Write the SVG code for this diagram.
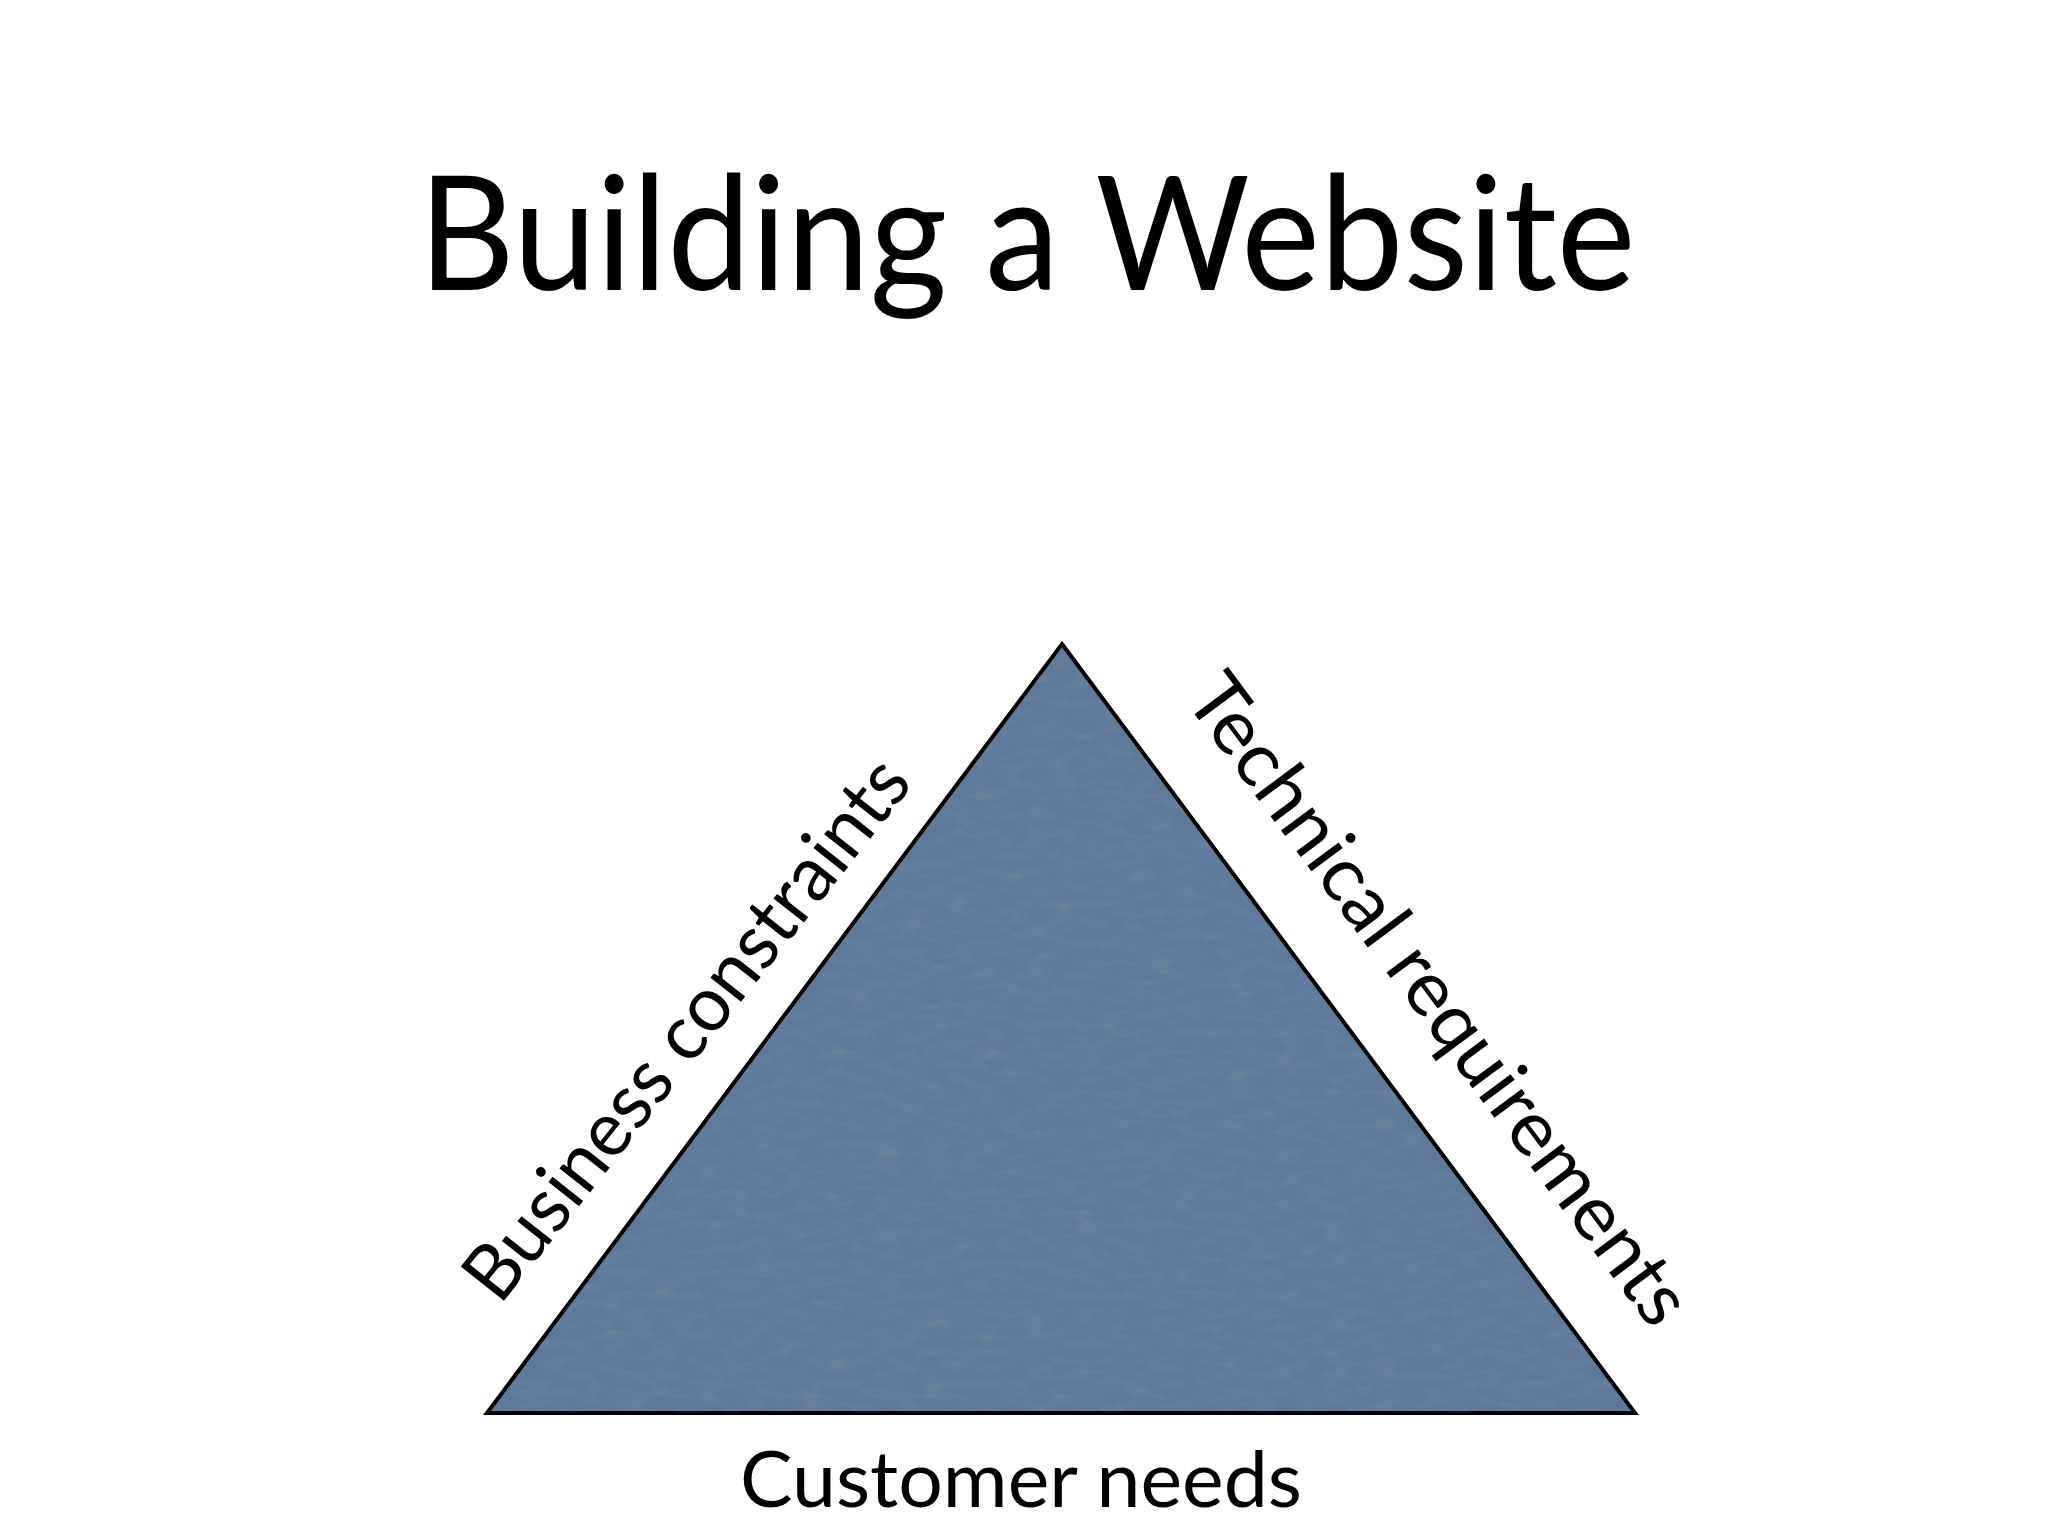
<svg xmlns="http://www.w3.org/2000/svg" width="2048" height="1536" viewBox="0 0 2048 1536">
  <style>
    .lbl { font-family: "Lato", "Open Sans", "Liberation Sans", sans-serif; fill: #000; }
    .title { font-size: 160px; }
    .side { font-size: 77px; }
    .tri { fill: #5f7898; stroke: #000; stroke-width: 4; stroke-linejoin: miter; }
  </style>
  <defs>
    <filter id="paper" x="0" y="0" width="100%" height="100%">
      <feTurbulence type="fractalNoise" baseFrequency="0.04 0.1" numOctaves="2" seed="7" result="n"/>
      <feColorMatrix in="n" type="matrix" values="0 0 0 0 0.62  0 0 0 0 0.68  0 0 0 0 0.78  0.22 0 0 0 -0.09" result="c"/>
      <feComposite in="c" in2="SourceGraphic" operator="in"/>
    </filter>
  </defs>
  <rect width="2048" height="1536" fill="#ffffff"/>

  <g id="title">
    <text class="lbl title" x="1027" y="290" text-anchor="middle" textLength="1217" lengthAdjust="spacingAndGlyphs">Building a Website</text>
  </g>

  <g id="triangle">
    <polygon class="tri" points="1062,644 1635,1413 487,1413"/>
    <polygon points="1062,644 1635,1413 487,1413" fill="#5f7898" filter="url(#paper)"/>
  </g>

  <g id="label-business">
    <text class="lbl side" x="0" y="0" text-anchor="middle" textLength="667" lengthAdjust="spacingAndGlyphs" transform="translate(707,1045) rotate(-51.6)">Business constraints</text>
  </g>

  <g id="label-technical">
    <text class="lbl side" x="0" y="0" text-anchor="middle" textLength="788" lengthAdjust="spacingAndGlyphs" transform="translate(1418,1015) rotate(53.4)">Technical requirements</text>
  </g>

  <g id="label-customer">
    <text class="lbl side" x="1021" y="1507" text-anchor="middle" textLength="562" lengthAdjust="spacingAndGlyphs">Customer needs</text>
  </g>

  <g id="connectors"></g>
</svg>
